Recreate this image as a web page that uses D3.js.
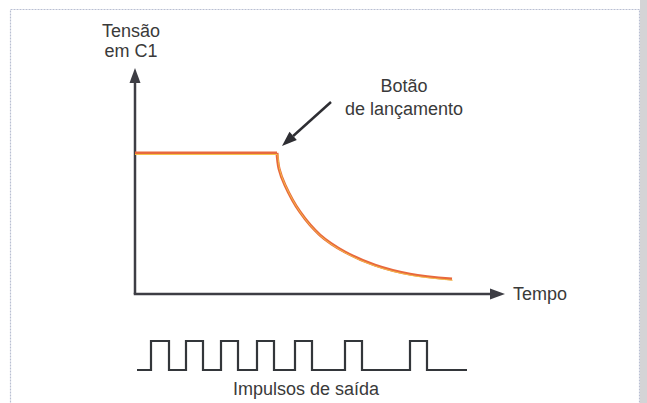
<!DOCTYPE html>
<html lang="pt">
  <head>
    <meta charset="utf-8">
    <script src="https://d3js.org/d3.v7.min.js"></script>
    <style>
    body { margin: 0; background: #fff; }
    text { font-family: "Liberation Sans", Arial, sans-serif; fill: #3a3a3a; }
    </style>
  </head>
  <body>
    <div id="place"></div>
    <script type="text/javascript">
    // voltage on C1 (time, volts) - flat until the button, then decay
    const flatPart = [[0, 62.4], [142, 62.4]];
    const decayPart = [[142, 62.4], [144, 55.5], [150, 48.2], [165, 36.3], [185, 26.1], [210, 18.6],
                       [240, 12.8], [275, 8.8], [317, 6.6]];
    // output pulses: [rise, fall]
    const pulses = [[16, 34], [51, 68], [86, 103], [122, 139], [160, 177], [210, 227], [275, 292]];
    const pulseStart = 2, pulseEnd = 332;
    const yLabel = ["Tensão", "em C1"];
    const xLabel = "Tempo";
    const noteLabel = ["Botão", "de lançamento"];
    const pulseLabel = "Impulsos de saída";

    var width = 647, height = 403;
    var svg = d3.select('#place').append('svg')
        .attr('width', width)
        .attr('height', height);

    // page frame
    svg.append('rect')
        .attr('x', 10.5).attr('y', 9.5)
        .attr('width', 629).attr('height', 400)
        .attr('fill', '#fff')
        .attr('stroke', '#b9bfd2')
        .attr('stroke-width', 1.2)
        .attr('stroke-dasharray', '2,1');
    svg.append('rect')
        .attr('x', 640).attr('y', 0)
        .attr('width', 7).attr('height', height)
        .attr('fill', '#d4d4d6');

    const x = d3.scaleLinear().domain([0, 370]).range([135, 505]);
    const y = d3.scaleLinear().domain([0, 100]).range([294, 68]);
    const yp = d3.scaleLinear().domain([0, 1]).range([370, 341]);

    const axisColor = '#3d3d44';
    // y axis
    svg.append('line')
        .attr('x1', x(0)).attr('y1', y(0))
        .attr('x2', x(0)).attr('y2', y(100) + 12)
        .attr('stroke', axisColor).attr('stroke-width', 2.5);
    svg.append('path')
        .attr('d', `M${x(0)},${y(100)} L${x(0) - 5.5},${y(100) + 15} L${x(0) + 5.5},${y(100) + 15} Z`)
        .attr('fill', axisColor);
    // x axis
    svg.append('line')
        .attr('x1', x(0) - 1.25).attr('y1', y(0))
        .attr('x2', x(370) - 12).attr('y2', y(0))
        .attr('stroke', axisColor).attr('stroke-width', 2.5);
    svg.append('path')
        .attr('d', `M${x(370)},${y(0)} L${x(370) - 15},${y(0) - 5.5} L${x(370) - 15},${y(0) + 5.5} Z`)
        .attr('fill', axisColor);

    // axis labels
    svg.append('text')
        .attr('text-anchor', 'middle')
        .style('font-size', '18px')
        .selectAll('tspan').data(yLabel).join('tspan')
        .attr('x', x(0) - 4).attr('y', (d, i) => 37 + i * 20)
        .text(d => d);
    svg.append('text')
        .attr('x', x(370) + 8).attr('y', y(0) + 6)
        .style('font-size', '18px')
        .text(xLabel);

    // voltage curve
    const line = d3.line().x(d => x(d[0])).y(d => y(d[1]));
    const curve = d3.line().x(d => x(d[0])).y(d => y(d[1])).curve(d3.curveCatmullRom.alpha(0.5));
    svg.append('path')
        .datum(flatPart)
        .attr('fill', 'none')
        .attr('stroke', '#e8683c')
        .attr('stroke-width', 3)
        .attr('d', line);
    svg.append('path')
        .datum(decayPart)
        .attr('fill', 'none')
        .attr('stroke', '#e8683c')
        .attr('stroke-width', 3)
        .attr('d', curve);
    // thin yellow highlight along the lower edge
    svg.append('path')
        .datum(flatPart)
        .attr('fill', 'none')
        .attr('stroke', '#f4c44a')
        .attr('stroke-width', 1)
        .attr('transform', 'translate(0,1.5)')
        .attr('d', line);
    svg.append('path')
        .datum(decayPart)
        .attr('fill', 'none')
        .attr('stroke', '#f4c44a')
        .attr('stroke-width', 0.9)
        .attr('transform', 'translate(0.8,1.2)')
        .attr('d', curve);

    // annotation arrow pointing to the button press
    const tip = [x(flatPart[1][0]) + 5, y(flatPart[1][1]) - 7];
    const tail = [tip[0] + 49, tip[1] - 44];
    const ang = Math.atan2(tip[1] - tail[1], tip[0] - tail[0]);
    const hl = 15, hw = 5.5;
    const bx = tip[0] - hl * Math.cos(ang), by = tip[1] - hl * Math.sin(ang);
    svg.append('line')
        .attr('x1', tail[0]).attr('y1', tail[1])
        .attr('x2', bx).attr('y2', by)
        .attr('stroke', '#2e2e33').attr('stroke-width', 2.5);
    svg.append('path')
        .attr('d', `M${tip[0]},${tip[1]} L${bx - hw * Math.sin(ang)},${by + hw * Math.cos(ang)} L${bx + hw * Math.sin(ang)},${by - hw * Math.cos(ang)} Z`)
        .attr('fill', '#2e2e33');
    svg.append('text')
        .attr('text-anchor', 'middle')
        .style('font-size', '18px')
        .selectAll('tspan').data(noteLabel).join('tspan')
        .attr('x', 404).attr('y', (d, i) => 92 + i * 23)
        .text(d => d);

    // pulse train
    const pts = [[pulseStart, 0]];
    pulses.forEach(p => { pts.push([p[0], 0], [p[0], 1], [p[1], 1], [p[1], 0]); });
    pts.push([pulseEnd, 0]);
    svg.append('path')
        .datum(pts)
        .attr('fill', 'none')
        .attr('stroke', '#33363a')
        .attr('stroke-width', 2.2)
        .attr('d', d3.line().x(d => x(d[0])).y(d => yp(d[1])));
    svg.append('text')
        .attr('x', 306).attr('y', 395)
        .attr('text-anchor', 'middle')
        .style('font-size', '18px')
        .text(pulseLabel);
    </script>
  </body>
</html>
